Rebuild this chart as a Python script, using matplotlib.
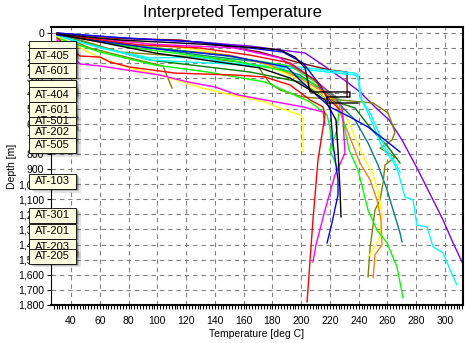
import matplotlib
matplotlib.use("Agg")
import matplotlib.pyplot as plt
import matplotlib.transforms as mtransforms
from matplotlib.patches import Rectangle
from matplotlib.ticker import MultipleLocator, FuncFormatter

plt.rcParams['font.family'] = ['Liberation Sans', 'DejaVu Sans']

# temperature [deg C] / depth [m] per well profile
red_deep_t = [30.3, 46.3, 60.2, 67.1, 81.0, 112.3, 154.0, 174.9, 192.3, 206.2, 215.2, 216.6, 211.7, 208.2, 206.2, 204.1]
red_deep_d = [33, 152, 159, 192, 225, 265, 278, 291, 344, 443, 489, 542, 840, 1237, 1501, 1779]

red_up_t = [30.3, 88.0, 129.7, 164.4, 192.3, 209.6, 220.0, 227.0]
red_up_d = [7, 79, 99, 146, 198, 311, 443, 509]

mag_low_t = [30.3, 46.3, 60.2, 101.9, 121.3, 140.1, 156.1, 174.9, 201.3, 215.2, 216.6]
mag_low_d = [46, 205, 218, 278, 324, 357, 410, 443, 489, 522, 609]

mag_deep_t = [30.3, 94.9, 154.0, 185.3, 209.6, 223.5, 228.4, 230.5, 223.5, 216.6, 210.3, 208.2]
mag_deep_d = [7, 73, 99, 165, 311, 423, 489, 794, 939, 1171, 1402, 1515]

blue_deep_t = [30.3, 78.9, 129.7, 164.4, 187.4, 201.3, 213.1, 220.0, 222.1, 225.6, 225.6, 221.4, 218.0]
blue_deep_d = [0, 33, 60, 99, 126, 198, 344, 463, 728, 972, 1071, 1257, 1389]

blue2_t = [30.3, 94.9, 150.5, 190.2, 199.2, 208.2, 220.0, 233.9, 246.5, 258.3, 268.7]
blue2_d = [13, 99, 152, 225, 311, 390, 489, 556, 622, 708, 787]

black_deep_t = [30.3, 60.2, 98.4, 133.2, 171.4, 192.3, 206.2, 216.6, 224.2, 225.6, 227.0, 227.7]
black_deep_d = [7, 60, 132, 179, 231, 298, 377, 443, 575, 774, 1038, 1217]

black2_t = [30.3, 74.1, 129.7, 171.4, 185.3, 195.7, 202.7, 206.2, 233.9, 233.9, 218.0, 218.0, 239.5]
black2_d = [7, 46, 73, 99, 112, 159, 231, 390, 390, 423, 423, 463, 463]

green_deep_t = [30.3, 94.9, 150.5, 192.3, 220.0, 227.0, 230.5, 233.3, 239.5, 246.5, 252.7, 259.7, 266.6, 270.8]
green_deep_d = [7, 112, 179, 258, 390, 443, 642, 774, 906, 1171, 1303, 1389, 1548, 1753]

green_low_t = [30.3, 60.2, 98.4, 135.2, 174.9, 206.2, 218.0, 220.0, 222.1]
green_low_d = [33, 126, 212, 258, 324, 456, 542, 628, 774]

green3_t = [30.3, 88.0, 143.6, 192.3, 213.1, 227.0, 224.9, 220.0, 224.9]
green3_d = [7, 86, 146, 218, 344, 463, 642, 774, 886]

orange_t = [30.3, 60.2, 112.3, 150.5, 178.3, 199.2, 213.1, 223.5, 231.9, 240.9, 247.9, 252.7, 255.5, 256.2, 251.3, 250.0]
orange_d = [7, 60, 112, 146, 212, 298, 377, 443, 642, 860, 972, 1105, 1237, 1402, 1468, 1620]

yellow_deep_t = [30.3, 74.1, 129.7, 171.4, 199.2, 220.0, 230.5, 237.4, 244.4, 249.3, 253.4, 256.2, 254.8, 250.0, 246.5]
yellow_deep_d = [7, 46, 112, 192, 311, 443, 529, 688, 840, 919, 1038, 1204, 1349, 1435, 1482]

yellow_short_t = [30.3, 60.2, 78.9, 101.9, 131.1, 151.9, 174.9, 185.3, 199.2, 201.3, 201.3]
yellow_short_d = [20, 165, 225, 278, 364, 410, 456, 496, 542, 562, 787]

teal_t = [30.3, 81.0, 129.7, 171.4, 199.2, 220.0, 227.0, 237.4, 246.5, 253.4, 259.7, 263.9, 268.7, 270.1]
teal_d = [7, 79, 146, 192, 278, 410, 476, 575, 728, 873, 1038, 1171, 1323, 1382]

olive_short_t = [30.3, 53.2, 81.0, 104.0, 107.4, 110.2]
olive_short_d = [7, 99, 165, 218, 298, 364]

olive_long_t = [30.3, 74.1, 126.2, 157.5, 170.0, 173.5, 178.3, 185.3, 201.3, 227.0, 250.0, 260.4,
                265.2, 263.2, 254.8, 265.2, 258.3, 256.9, 254.8, 251.3, 249.3, 247.9, 246.5]
olive_long_d = [0, 126, 159, 192, 218, 271, 331, 377, 423, 443, 463, 529,
                655, 708, 761, 820, 873, 992, 1105, 1171, 1323, 1422, 1614]

cyan_t = [30.3, 60.2, 94.9, 129.7, 150.5, 178.3, 199.2, 216.6, 237.4, 239.5, 240.9, 246.5, 256.2,
          263.2, 267.3, 272.2, 277.8, 280.5, 287.5, 291.7, 298.6, 303.5, 308.3]
cyan_d = [13, 99, 165, 159, 198, 218, 225, 245, 265, 278, 423, 529, 754,
          840, 919, 1085, 1105, 1270, 1283, 1415, 1455, 1567, 1667]

cyan2_t = [30.3, 94.9, 150.5, 199.2, 237.4, 239.5, 242.3, 248.6, 258.3, 265.2, 268.7]
cyan2_d = [20, 179, 205, 238, 278, 290, 443, 542, 754, 854, 919]

purple_t = [30.3, 74.1, 129.7, 164.4, 185.3, 202.7, 218.0, 231.9, 240.9, 251.3, 261.1, 270.1,
            280.5, 291.7, 298.6, 305.6, 311.8, 313.9]
purple_d = [0, 33, 60, 86, 112, 132, 231, 324, 390, 489, 575, 708,
            893, 1105, 1237, 1389, 1515, 1554]

dkgreen_t = [30.3, 94.9, 164.4, 199.2, 220.0, 237.4, 249.3, 260.4, 268.7]
dkgreen_d = [13, 179, 258, 324, 443, 496, 642, 754, 860]

maroon_t = [30.3, 60.2, 115.8, 147.1, 171.4, 199.2, 220.0, 231.9, 231.9]
maroon_d = [0, 33, 46, 86, 126, 198, 245, 258, 423]

profiles = [
    (purple_t, purple_d, '#8000FF'),
    (maroon_t, maroon_d, '#800000'),
    (dkgreen_t, dkgreen_d, '#008000'),
    (teal_t, teal_d, '#008080'),
    (olive_short_t, olive_short_d, '#808000'),
    (olive_long_t, olive_long_d, '#808000'),
    (cyan2_t, cyan2_d, '#00FFFF'),
    (cyan_t, cyan_d, '#00FFFF'),
    (yellow_short_t, yellow_short_d, '#FFFF00'),
    (yellow_deep_t, yellow_deep_d, '#FFFF00'),
    (orange_t, orange_d, '#FF8000'),
    (green3_t, green3_d, '#00FF00'),
    (green_low_t, green_low_d, '#00FF00'),
    (green_deep_t, green_deep_d, '#00FF00'),
    (mag_low_t, mag_low_d, '#FF00FF'),
    (mag_deep_t, mag_deep_d, '#FF00FF'),
    (blue2_t, blue2_d, '#0000FF'),
    (blue_deep_t, blue_deep_d, '#0000FF'),
    (red_up_t, red_up_d, '#FF0000'),
    (red_deep_t, red_deep_d, '#FF0000'),
    (black2_t, black2_d, '#000000'),
    (black_deep_t, black_deep_d, '#000000'),
]

# well name tags along the depth axis (drawing order = stacking order)
tag_names = ['', 'AT-405', 'AT-601', '', 'AT-404', 'AT-501', 'AT-202', 'AT-601',
             'AT-505', 'AT-103', 'AT-301', 'AT-201', 'AT-203', 'AT-205']
tag_depths = [103, 149, 248, 360, 407, 582, 658, 509, 744, 982, 1207, 1313, 1415, 1478]

fig = plt.figure(figsize=(4.65, 3.43), dpi=100)
ax = fig.add_axes([51 / 465, 1 - 305 / 343, 412 / 465, 278 / 343])

for t, d, c in profiles:
    ax.plot(t, d, color=c, lw=1.0)

ax.set_xlim(26.1, 312.5)
ax.set_ylim(1800, -40)
ax.xaxis.set_major_locator(MultipleLocator(20))
ax.xaxis.set_minor_locator(MultipleLocator(2))
ax.yaxis.set_major_locator(MultipleLocator(100))
ax.yaxis.set_major_formatter(FuncFormatter(lambda v, p: f'{int(v):,}'))
ax.tick_params(axis='x', which='both', length=3, width=0.8, pad=5, labelsize=7.5)
ax.tick_params(axis='y', which='major', length=3, width=0.8, pad=2, labelsize=7.5)
ax.grid(True, which='major', color='#808080', linestyle=(0, (4, 3.5)), linewidth=0.8)
for s in ['top', 'right', 'bottom']:
    ax.spines[s].set_linewidth(1.5)
ax.spines['left'].set_linewidth(0.8)

ax.set_xlabel('Temperature [deg C]', fontsize=7.5, labelpad=2)
ax.set_ylabel('Depth [m]', fontsize=7.5, labelpad=1)
fig.text(0.5, 1 - 12 / 343, 'Interpreted Temperature', ha='center', va='center', fontsize=12)

# tags: x in figure fraction, y in depth
trans = mtransforms.blended_transform_factory(fig.transFigure, ax.transData)
bx, bw, bh = 29 / 465, 47 / 465, 99.0
for name, d in zip(tag_names, tag_depths):
    for k, a in enumerate([0.12, 0.2, 0.35]):
        off = (3 - k) * 1.6
        ax.add_patch(Rectangle((bx + off / 465, d - bh / 2 + off * 5), bw, bh, transform=trans,
                               facecolor='#202020', edgecolor='none', alpha=a, clip_on=False, zorder=5))
    ax.add_patch(Rectangle((bx, d - bh / 2), bw, bh, transform=trans, facecolor='#FFFFE1',
                           edgecolor='#000000', linewidth=0.6, clip_on=False, zorder=6))
    ax.text(bx + bw / 2, d, name, transform=trans, ha='center', va='center', fontsize=8,
            clip_on=False, zorder=7)

fig.savefig('out.png', dpi=100)
